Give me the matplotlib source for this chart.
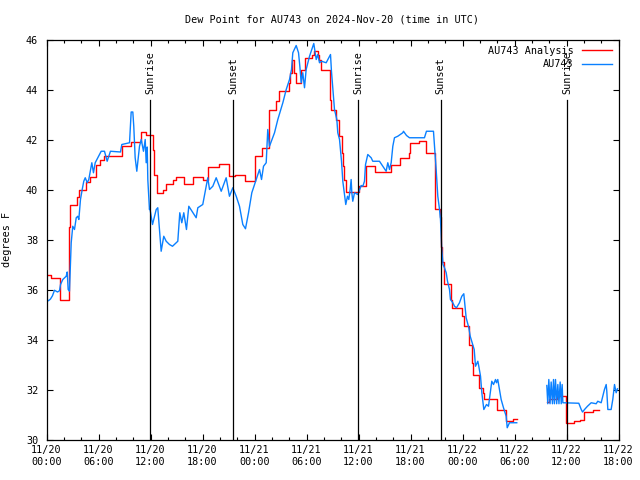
import numpy as np
import matplotlib
matplotlib.use("Agg")
import matplotlib.pyplot as plt
from matplotlib.ticker import MultipleLocator

# ---- data (hours since 2024-11-20 00:00 UTC) ----
red_t = [0.0, 0.55, 1.6, 2.55, 2.73, 3.54, 3.73, 4.58, 5.04, 5.73, 6.12, 6.69, 8.69, 9.77,
         10.93, 11.5, 12.27, 12.45, 12.7, 13.4, 13.81, 14.6, 14.96, 15.84, 16.88, 18.03,
         18.69, 19.96, 21.1, 21.7, 22.85, 24.0, 24.84, 25.73, 26.5, 26.88, 27.96, 28.12,
         28.35, 28.61, 28.81, 29.31, 29.77, 30.66, 30.92, 31.3, 31.4, 31.7, 32.73, 32.85,
         33.42, 33.8, 34.04, 34.2, 34.38, 34.5, 36.03, 36.89, 37.85, 39.77, 40.81, 41.8,
         41.96, 42.96, 43.81, 44.88, 45.46, 45.57, 45.69, 45.86, 45.92, 46.65, 46.76, 47.92,
         48.2, 48.8, 49.07, 49.23, 49.88, 50.34, 50.45, 51.96, 53.04, 53.85, 54.26, 54.3,
         57.73, 57.96, 58.92, 59.96, 60.84, 61.5, 61.99, 63.03, 63.72]
red_v = [36.6, 36.47, 35.6, 38.5, 39.4, 39.7, 40.0, 40.3, 40.5, 41.0, 41.2, 41.35, 41.73, 41.9,
         42.3, 42.2, 41.6, 40.6, 39.87, 40.0, 40.2, 40.4, 40.5, 40.24, 40.5, 40.37,
         40.9, 41.03, 40.53, 40.6, 40.33, 41.33, 41.67, 43.17, 43.53, 43.93, 44.27, 44.67,
         45.17, 44.67, 44.27, 44.8, 45.27, 45.4, 45.53, 45.4, 45.17, 44.8, 43.6, 43.17,
         42.8, 42.13, 41.47, 40.93, 40.4, 39.9, 40.16, 40.93, 40.7, 40.99, 41.27, 41.47,
         41.87, 41.93, 41.47, 39.2, 38.9, 37.7, 37.1, 36.53, 36.2, 35.6, 35.28, 34.93,
         34.53, 33.8, 33.07, 32.6, 32.07, 31.87, 31.64, 31.2, 30.73, 30.83, 30.83, np.nan,
         31.49, 31.63, 31.76, 30.67, 30.76, 30.8, 31.1, 31.2, 31.2]

blue_t = [0.0, 0.23, 0.46, 0.69, 0.92, 1.27, 1.5, 1.62, 1.88, 2.27, 2.39, 2.5, 2.65, 2.85,
          3.03, 3.23, 3.43, 3.61, 3.73, 3.92, 4.12, 4.3, 4.47, 4.7, 4.88, 5.23, 5.42, 5.62,
          6.12, 6.31, 6.69, 7.0, 7.38, 8.54, 8.69, 9.58, 9.77, 9.96, 10.07, 10.23, 10.42,
          10.73, 10.93, 11.19, 11.39, 11.5, 11.62, 11.69, 11.88, 11.92, 12.23, 12.66, 12.84,
          13.23, 13.53, 13.81, 14.19, 14.54, 15.15, 15.38, 15.61, 15.84, 16.15, 16.42, 17.27,
          17.46, 18.03, 18.43, 18.61, 18.81, 19.19, 19.58, 20.16, 20.73, 21.11, 21.5, 21.89,
          22.27, 22.65, 22.96, 23.31, 23.69, 24.2, 24.58, 24.81, 25.04, 25.35, 25.53, 25.73,
          26.31, 26.69, 27.27, 27.66, 28.04, 28.27, 28.42, 28.81, 29.08, 29.23, 29.39, 29.57,
          29.77, 29.96, 30.35, 30.84, 31.12, 31.3, 31.5, 31.73, 32.27, 32.77, 32.88, 33.23,
          33.5, 33.61, 33.81, 34.04, 34.19, 34.38, 34.53, 34.73, 34.88, 35.04, 35.15, 35.23,
          35.34, 35.54, 35.92, 36.31, 36.5, 36.69, 36.81, 37.07, 37.46, 37.65, 38.42, 38.8,
          39.19, 39.38, 39.58, 39.77, 39.96, 40.15, 40.53, 41.11, 41.19, 41.54, 41.88, 43.61,
          43.84, 44.65, 44.96, 45.15, 45.35, 45.46, 45.61, 45.75, 45.92, 46.12, 46.27, 46.5,
          46.61, 46.88, 47.08, 47.31, 47.65, 47.92, 48.15, 48.42, 48.73, 48.89, 49.35, 49.5,
          49.77, 49.88, 50.08, 50.23, 50.46, 50.77, 51.0, 51.38, 51.58, 51.81, 51.92, 52.07,
          52.46, 52.73, 53.04, 53.16, 53.42, 54.26, 54.3,
          57.73, 57.84, 57.96, 58.1, 58.23, 58.38, 58.5, 58.61, 58.73, 58.87, 59.0, 59.13,
          59.27, 59.39, 59.5, 59.58, 61.42, 61.7, 61.85, 62.08, 62.42, 62.85, 63.42, 63.61,
          64.0, 64.19, 64.38, 64.58, 64.65, 64.77, 65.15, 65.34, 65.54, 65.73, 65.88]
blue_v = [35.6, 35.55, 35.62, 35.75, 35.97, 35.9, 35.95, 36.2, 36.4, 36.53, 36.7, 36.0, 35.93, 37.87,
          38.53, 38.4, 38.87, 38.93, 38.8, 39.6, 40.0, 40.33, 40.47, 40.27, 40.4, 41.07, 40.67, 41.07,
          41.4, 41.53, 41.53, 41.13, 41.53, 41.5, 41.8, 41.87, 43.1, 43.1, 42.53, 41.27, 40.73,
          41.73, 42.0, 41.53, 42.0, 41.07, 41.7, 40.4, 39.2, 39.27, 38.6, 39.2, 39.27,
          37.53, 38.13, 37.93, 37.8, 37.73, 37.93, 39.07, 38.67, 39.07, 38.4, 39.33, 38.87,
          39.27, 39.4, 40.13, 40.47, 40.0, 40.13, 40.47, 39.93, 40.47, 39.73, 40.07, 39.73,
          39.33, 38.6, 38.43, 39.07, 39.87, 40.4, 40.8, 40.4, 40.93, 41.07, 42.4, 41.73,
          42.27, 42.8, 43.47, 44.0, 44.4, 44.8, 45.47, 45.76, 45.47, 44.93, 44.27, 44.67,
          44.07, 44.8, 45.33, 45.84, 45.2, 45.4, 45.07, 45.13, 45.07, 45.4, 44.73, 43.2,
          42.8, 42.27, 42.0, 41.13, 40.33, 39.8, 39.4, 39.73, 39.6, 40.0, 40.4, 39.87,
          39.53, 39.87, 39.8, 40.16, 40.13, 40.33, 41.0, 41.4, 41.27, 41.13, 41.13, 40.93,
          40.73, 41.07, 40.8, 41.07, 41.73, 42.07, 42.13, 42.27, 42.33, 42.16, 42.07, 42.07,
          42.33, 42.33, 40.8, 39.73, 39.2, 38.8, 37.6, 37.0, 36.87, 36.67, 36.33, 36.0,
          35.6, 35.47, 35.33, 35.27, 35.47, 35.73, 35.83, 34.87, 34.47, 34.13, 33.6, 32.93,
          33.13, 32.93, 32.53, 31.87, 31.2, 31.4, 31.33, 32.33, 32.2, 32.4, 32.27, 32.4,
          31.6, 31.27, 30.93, 30.47, 30.67, 30.67, np.nan,
          32.16, 31.43, 32.4, 31.43, 32.3, 31.43, 32.4, 31.43, 32.4, 31.43, 32.2, 31.43,
          32.3, 31.43, 32.2, 31.47, 31.45, 31.2, 31.1, 31.2, 31.33, 31.47, 31.43, 31.53,
          31.47, 31.73, 32.0, 32.2, 31.93, 31.2, 31.2, 31.6, 32.2, 31.87, 32.03]

sun_t = [11.97, 21.55, 35.98, 45.5, 60.05]
sun_labels = ["Sunrise", "Sunset", "Sunrise", "Sunset", "Sunrise"]

xtick_pos = [0, 6, 12, 18, 24, 30, 36, 42, 48, 54, 60, 66]
xtick_labels = ["11/20\n00:00", "11/20\n06:00", "11/20\n12:00", "11/20\n18:00",
                "11/21\n00:00", "11/21\n06:00", "11/21\n12:00", "11/21\n18:00",
                "11/22\n00:00", "11/22\n06:00", "11/22\n12:00", "11/22\n18:00"]

title = "Dew Point for AU743 on 2024-Nov-20 (time in UTC)"
red_color = "#ff0000"
blue_color = "#0a80ff"

plt.rcParams['font.family'] = ['DejaVu Sans Mono']
plt.rcParams['font.size'] = 7.3

fig = plt.figure(figsize=(6.4, 4.8), dpi=100)
ax = fig.add_axes([46.5 / 640, 40.5 / 480, 572 / 640, 400 / 480])

ax.plot(red_t, red_v, color=red_color, lw=1.0, drawstyle='steps-post', label="AU743 Analysis")
ax.plot(blue_t, blue_v, color=blue_color, lw=1.0, label="AU743")

for t, lab in zip(sun_t, sun_labels):
    ax.plot([t, t], [30, 43.6], color='black', lw=0.9)
    ax.text(t, 43.8, lab, rotation=90, ha='center', va='bottom', fontsize=7.3)

ax.set_xlim(0, 66)
ax.set_ylim(30, 46)
ax.set_xticks(xtick_pos)
ax.set_xticklabels(xtick_labels)
ax.xaxis.set_minor_locator(MultipleLocator(2))
ax.yaxis.set_major_locator(MultipleLocator(2))
ax.tick_params(axis='both', which='both', direction='in', top=True, right=True)
ax.tick_params(axis='both', which='major', length=4, width=0.8)
ax.tick_params(axis='both', which='minor', length=2.5, width=0.8)
ax.tick_params(axis='x', pad=4)
ax.tick_params(axis='y', pad=6)
for s in ax.spines.values():
    s.set_linewidth(0.9)

ax.set_ylabel("degrees F", labelpad=10)
fig.text(332 / 640, 1 - 20 / 480, title, ha='center', va='center', fontsize=7.3)

leg = ax.legend(loc='upper right', bbox_to_anchor=(1.0, 1.0), markerfirst=False, frameon=False,
                handlelength=3.0, handletextpad=0.8, labelspacing=0.35, borderaxespad=0.2,
                fontsize=7.3)
for txt in leg.get_texts():
    txt.set_ha('right')

fig.savefig("out.png", dpi=100)
